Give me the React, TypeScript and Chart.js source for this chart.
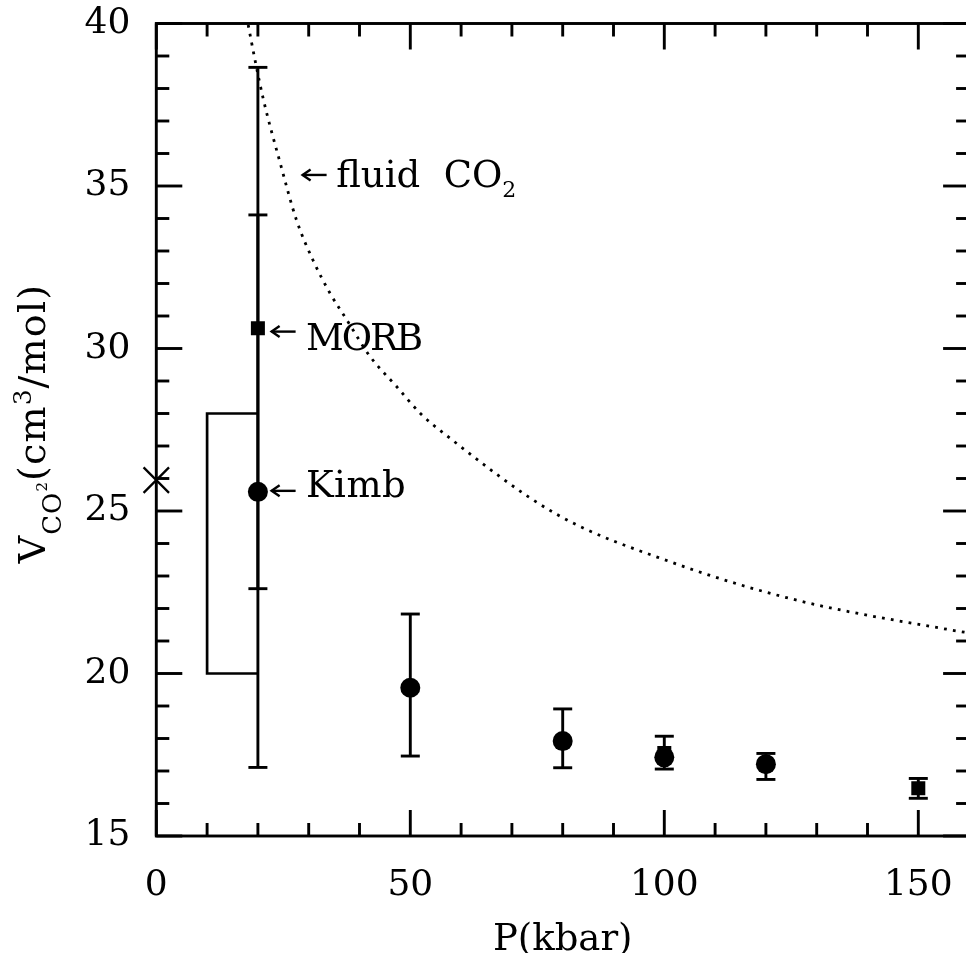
import React, { useEffect, useRef } from "react";
import { Chart, registerables } from "chart.js";

Chart.register(...registerables);

const FONT = "'DejaVu Serif', serif";

// ---------------- data ----------------
const curveP = [17.4, 18.1, 19.4, 21.1, 24.4, 27.6, 30.9, 34.2, 37.5, 42.1, 47.3, 52.0, 56.5, 78.8, 101.5, 125.7, 156.4, 162];
const curveV = [40.5, 39.95, 38.9, 37.65, 35.7, 33.95, 32.7, 31.7, 30.88, 29.75, 28.83, 28.0, 27.4, 24.9, 23.42, 22.27, 21.34, 21.2];

const boxP = [20, 10, 10, 20];
const boxV = [20, 20, 28, 28];

const circleP = [20, 50, 80, 100, 120];
const circleV = [25.59, 19.56, 17.92, 17.42, 17.21];

const squareP = [20, 100, 150];
const squareV = [30.62, 17.55, 16.47];

const crossP = [0];
const crossV = [25.95];

const errP = [20, 20, 50, 80, 100, 120, 150];
const errLo = [17.11, 22.61, 17.46, 17.1, 17.06, 16.74, 16.16];
const errHi = [38.65, 34.11, 21.83, 18.91, 18.07, 17.54, 16.77];

const xTickLabels = [0, 50, 100, 150];
const xMinorTicks = [10, 20, 30, 40, 60, 70, 80, 90, 110, 120, 130, 140];
const yTickLabels = [15, 20, 25, 30, 35, 40];
const yMinorTicks = [16, 17, 18, 19, 21, 22, 23, 24, 26, 27, 28, 29, 31, 32, 33, 34, 36, 37, 38, 39];

// ---------------- layout constants ----------------
const CW = 990;
const CH = 975;
const AREA_LEFT = 156.3;
const AREA_RIGHT = 969.1;
const AREA_TOP = 23.5;
const AREA_BOTTOM = 836;
const MAJ = 26;
const MIN = 13;
const CAP = 9.5;
const LW = 2.9;

const pts = (xs: number[], ys: number[]) => xs.map((x, i) => ({ x, y: ys[i] }));

type Piece = { t: string; s: number; dy: number; ls?: number };

const decorPlugin = {
  id: "decor",
  afterDatasetsDraw(chart: any) {
    const { ctx, chartArea: a, scales } = chart;
    const x = scales.x;
    const y = scales.y;
    ctx.save();
    ctx.strokeStyle = "#000";
    ctx.fillStyle = "#000";
    ctx.lineWidth = LW;
    ctx.lineCap = "butt";
    const seg = (x1: number, y1: number, x2: number, y2: number) => {
      ctx.beginPath();
      ctx.moveTo(x1, y1);
      ctx.lineTo(x2, y2);
      ctx.stroke();
    };
    // error bars
    errP.forEach((p, i) => {
      const px = x.getPixelForValue(p);
      const lo = y.getPixelForValue(errLo[i]);
      const hi = y.getPixelForValue(errHi[i]);
      seg(px, lo, px, hi);
      seg(px - CAP, lo, px + CAP, lo);
      seg(px - CAP, hi, px + CAP, hi);
    });
    // frame
    ctx.strokeRect(a.left, a.top, a.right - a.left, a.bottom - a.top);
    // ticks
    const xt = (v: number, L: number) => {
      const px = x.getPixelForValue(v);
      seg(px, a.bottom, px, a.bottom - L);
      seg(px, a.top, px, a.top + L);
    };
    const yt = (v: number, L: number) => {
      const py = y.getPixelForValue(v);
      seg(a.left, py, a.left + L, py);
      seg(a.right, py, a.right - L, py);
    };
    xTickLabels.forEach((v) => xt(v, MAJ));
    xMinorTicks.forEach((v) => xt(v, MIN));
    yTickLabels.forEach((v) => yt(v, MAJ));
    yMinorTicks.forEach((v) => yt(v, MIN));

    // annotations: arrows + labels
    const arrow = (tipX: number, tipY: number) => {
      ctx.lineWidth = 2.4;
      seg(tipX, tipY, tipX + 24, tipY);
      ctx.beginPath();
      ctx.moveTo(tipX + 8, tipY - 5.5);
      ctx.lineTo(tipX, tipY);
      ctx.lineTo(tipX + 8, tipY + 5.5);
      ctx.stroke();
    };
    const measure = (pieces: Piece[]) => {
      let w = 0;
      for (const p of pieces) {
        ctx.font = `${p.s}px ${FONT}`;
        (ctx as any).letterSpacing = `${p.ls ?? 0}px`;
        w += ctx.measureText(p.t).width;
      }
      (ctx as any).letterSpacing = "0px";
      return w;
    };
    const rich = (pieces: Piece[], sx: number, sy: number) => {
      let u = sx;
      for (const p of pieces) {
        ctx.font = `${p.s}px ${FONT}`;
        (ctx as any).letterSpacing = `${p.ls ?? 0}px`;
        ctx.fillText(p.t, u, sy + p.dy);
        u += ctx.measureText(p.t).width;
      }
      (ctx as any).letterSpacing = "0px";
      return u - sx;
    };
    ctx.textBaseline = "alphabetic";
    ctx.textAlign = "left";
    const notes: { ap: number; av: number; tp: number; tv: number; pieces: Piece[] }[] = [
      { ap: 28.8, av: 35.34, tp: 35.4, tv: 34.97, pieces: [{ t: "fluid  CO", s: 37, dy: 0 }, { t: "2", s: 22, dy: 10 }] },
      { ap: 22.7, av: 30.52, tp: 29.45, tv: 29.95, pieces: [{ t: "MORB", s: 37, dy: 0, ls: -2 }] },
      { ap: 22.7, av: 25.62, tp: 29.45, tv: 25.44, pieces: [{ t: "Kimb", s: 37, dy: 0, ls: 0.5 }] },
    ];
    notes.forEach((n) => {
      arrow(x.getPixelForValue(n.ap), y.getPixelForValue(n.av));
      rich(n.pieces, x.getPixelForValue(n.tp), y.getPixelForValue(n.tv));
    });

    // y axis title (rotated, with subscript/superscript)
    const title: Piece[] = [
      { t: "V", s: 38, dy: 0, ls: 1 },
      { t: "CO", s: 26, dy: 16, ls: 1 },
      { t: "2", s: 15, dy: 2, ls: 1 },
      { t: "(cm", s: 38, dy: 0, ls: 1.2 },
      { t: "3", s: 25, dy: -14, ls: 1 },
      { t: "/mol)", s: 38, dy: 0, ls: 1.2 },
    ];
    const total = measure(title);
    ctx.translate(45, 423.5);
    ctx.rotate(-Math.PI / 2);
    rich(title, -total / 2, 0);
    ctx.restore();
  },
};

export default function App() {
  const ref = useRef<HTMLCanvasElement>(null);
  useEffect(() => {
    const canvas = ref.current;
    if (!canvas) return;
    const tickFont = { family: FONT, size: 36 };
    const chart = new Chart(canvas, {
      type: "scatter",
      data: {
        datasets: [
          {
            label: "fluid CO2",
            data: pts(curveP, curveV),
            showLine: true,
            borderColor: "#000",
            borderWidth: 2.8,
            borderDash: [2.8, 6.2],
            borderCapStyle: "butt",
            cubicInterpolationMode: "monotone",
            pointRadius: 0,
            fill: false,
          },
          {
            label: "range",
            data: pts(boxP, boxV),
            showLine: true,
            borderColor: "#000",
            borderWidth: 2.7,
            pointRadius: 0,
            fill: false,
            tension: 0,
          },
          {
            label: "circles",
            data: pts(circleP, circleV),
            pointStyle: "circle",
            pointRadius: 10,
            backgroundColor: "#000",
            borderColor: "#000",
            borderWidth: 0,
          },
          {
            label: "squares",
            data: pts(squareP, squareV),
            pointStyle: "rect",
            pointRadius: 9.9,
            backgroundColor: "#000",
            borderColor: "#000",
            borderWidth: 0,
          },
          {
            label: "cross",
            data: pts(crossP, crossV),
            pointStyle: "crossRot",
            pointRadius: 18,
            borderColor: "#000",
            borderWidth: 2.3,
            clip: false,
          },
        ] as any,
      },
      options: {
        responsive: false,
        animation: false,
        devicePixelRatio: 1,
        events: [],
        layout: { padding: { left: 0, top: AREA_TOP, right: CW - AREA_RIGHT, bottom: 0 } },
        plugins: { legend: { display: false }, tooltip: { enabled: false } },
        scales: {
          x: {
            type: "linear",
            min: 0,
            max: 160,
            grid: { display: false, drawTicks: false },
            border: { display: false },
            ticks: { color: "#000", font: tickFont, padding: 28, maxRotation: 0, autoSkip: false },
            afterBuildTicks: (s: any) => {
              s.ticks = xTickLabels.map((v) => ({ value: v }));
            },
            afterFit: (s: any) => {
              s.height = CH - AREA_BOTTOM;
              s.paddingLeft = 0;
              s.paddingRight = 0;
            },
            title: {
              display: true,
              text: "P(kbar)",
              color: "#000",
              font: { family: FONT, size: 37 },
              padding: { top: 0, bottom: 12 },
            },
          },
          y: {
            type: "linear",
            min: 15,
            max: 40,
            grid: { display: false, drawTicks: false },
            border: { display: false },
            ticks: { color: "#000", font: tickFont, padding: 26, autoSkip: false },
            afterBuildTicks: (s: any) => {
              s.ticks = yTickLabels.map((v) => ({ value: v }));
            },
            afterFit: (s: any) => {
              s.width = AREA_LEFT;
              s.paddingTop = 0;
              s.paddingBottom = 0;
            },
          },
        },
      } as any,
      plugins: [decorPlugin],
    });
    return () => chart.destroy();
  }, []);
  return (
    <div style={{ position: "fixed", left: 0, top: 0, width: 966, height: 953, overflow: "hidden", background: "#fff" }}>
      <canvas ref={ref} width={CW} height={CH} style={{ width: CW, height: CH, display: "block" }} />
    </div>
  );
}
